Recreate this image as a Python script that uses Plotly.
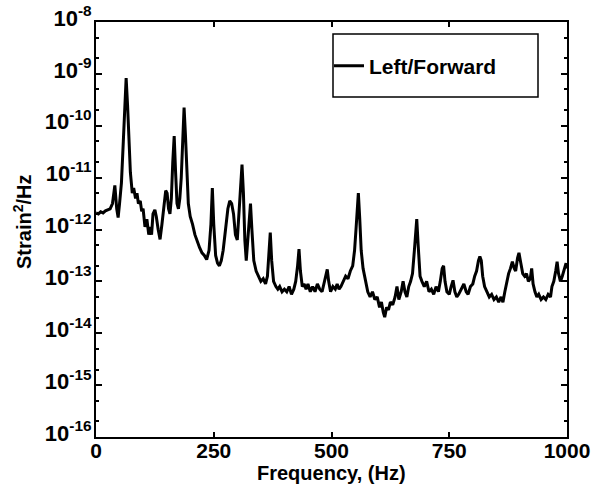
import plotly.graph_objects as go

# Frequency (Hz) and log10 of PSD (strain^2/Hz)
freq = [0, 5, 10, 15, 20, 25, 30, 35, 40, 44, 47, 50, 54, 58, 61, 64, 67, 70, 73, 77,
        80, 84, 87, 90, 94, 97, 100, 104, 108, 112, 115, 118, 121, 125, 128, 132, 136, 140, 144, 148,
        151, 154, 157, 160, 163, 166, 169, 172, 175, 178, 181, 184, 187, 190, 193, 196, 200, 205, 210, 215,
        220, 225, 230, 235, 240, 244, 247, 250, 254, 258, 262, 266, 270, 275, 280, 284, 288, 292, 296, 300,
        303, 307, 310, 313, 316, 319, 322, 325, 328, 331, 335, 340, 345, 350, 355, 360, 364, 367, 370, 373,
        377, 382, 386, 390, 395, 400, 405, 410, 415, 420, 424, 428, 431, 434, 438, 442, 446, 450, 455, 460,
        465, 470, 475, 480, 484, 488, 491, 494, 498, 503, 508, 512, 516, 520, 525, 530, 535, 540, 545, 549,
        552, 555, 557, 560, 563, 567, 572, 577, 582, 587, 592, 597, 602, 606, 610, 613, 617, 621, 625, 630,
        635, 639, 643, 648, 652, 656, 660, 664, 668, 672, 676, 679, 681, 684, 688, 692, 697, 702, 707, 712,
        717, 722, 727, 731, 735, 738, 741, 745, 750, 754, 758, 762, 766, 770, 775, 781, 786, 790, 795, 800,
        804, 808, 812, 815, 818, 821, 825, 830, 835, 840, 845, 850, 855, 860, 864, 868, 872, 876, 880, 884,
        888, 891, 895, 898, 902, 906, 910, 914, 918, 922, 925, 928, 932, 936, 940, 945, 950, 955, 960, 965,
        968, 972, 976, 979, 982, 986, 990, 994, 998, 1000]

log_psd = [-11.68, -11.70, -11.66, -11.68, -11.64, -11.62, -11.60, -11.50, -11.15, -11.60,
           -11.77, -11.50, -11.10, -10.30, -9.50, -9.08, -9.60, -10.40, -10.90, -11.30,
           -11.20, -11.40, -11.30, -11.50, -11.45, -11.65, -11.60, -11.95, -11.80, -12.10,
           -11.95, -12.10, -11.70, -11.62, -11.75, -12.00, -12.19, -11.90, -11.50, -11.25,
           -11.30, -11.60, -11.70, -11.40, -10.70, -10.20, -10.90, -11.50, -11.60, -11.40,
           -11.00, -10.30, -9.65, -10.20, -11.00, -11.50, -11.75, -11.90, -12.10, -12.25,
           -12.35, -12.45, -12.50, -12.58, -12.40, -11.90, -11.20, -11.90, -12.50, -12.65,
           -12.70, -12.60, -12.40, -12.00, -11.60, -11.45, -11.50, -11.70, -12.10, -12.20,
           -11.80, -11.20, -10.75, -11.30, -12.20, -12.60, -12.20, -11.80, -11.50, -12.00,
           -12.60, -12.80, -12.90, -13.00, -12.95, -13.05, -12.90, -12.50, -12.06, -12.60,
           -13.00, -13.10, -13.15, -13.10, -13.20, -13.15, -13.20, -13.10, -13.25, -13.15,
           -13.00, -12.70, -12.38, -12.80, -13.10, -13.05, -13.15, -13.05, -13.20, -13.10,
           -13.20, -13.05, -13.15, -13.20, -13.05, -12.90, -12.77, -13.00, -13.20, -13.10,
           -13.15, -13.05, -13.15, -13.10, -13.00, -12.90, -12.95, -12.80, -12.70, -12.40,
           -12.00, -11.40, -11.30, -11.80, -12.40, -12.75, -13.00, -13.20, -13.30, -13.20,
           -13.35, -13.30, -13.50, -13.40, -13.60, -13.69, -13.50, -13.55, -13.40, -13.45,
           -13.30, -13.10, -13.35, -13.20, -13.00, -13.20, -13.30, -13.10, -13.00, -12.85,
           -12.40, -11.90, -11.80, -12.30, -12.90, -13.00, -13.10, -13.00, -13.20, -13.15,
           -13.25, -13.10, -13.20, -13.00, -12.75, -12.70, -13.00, -13.20, -13.25, -13.10,
           -12.98, -13.20, -13.30, -13.25, -13.15, -13.05, -13.20, -13.25, -13.10, -13.05,
           -12.90, -12.80, -12.60, -12.52, -12.60, -12.90, -13.10, -13.20, -13.30, -13.25,
           -13.35, -13.30, -13.40, -13.30, -13.40, -13.20, -13.00, -12.85, -12.75, -12.62,
           -12.75, -12.80, -12.55, -12.45, -12.65, -12.85, -12.90, -12.85, -13.00, -12.95,
           -12.75, -13.05, -13.20, -13.30, -13.25, -13.35, -13.30, -13.35, -13.25, -13.30,
           -13.10, -13.00, -12.80, -12.62, -12.85, -13.00, -12.90, -12.75, -12.65, -12.75]

x_ticks = [0, 250, 500, 750, 1000]
y_exponents = [-16, -15, -14, -13, -12, -11, -10, -9, -8]
y_tick_labels = ["<b>10<sup>%d</sup></b>" % e for e in y_exponents]
x_tick_labels = ["<b>%d</b>" % v for v in x_ticks]
series_name = "Left/Forward"
x_title = "Frequency, (Hz)"
y_title = "Strain<sup>2</sup>/Hz"

psd = [10 ** v for v in log_psd]
y_tick_vals = [10.0 ** e for e in y_exponents]

FONT = "Liberation Sans, Arial, sans-serif"

fig = go.Figure()
fig.add_trace(go.Scatter(x=freq, y=psd, mode="lines", name="<b>" + series_name + "</b>",
                         line=dict(color="black", width=3)))

L, R, T, B = 96, 28, 22, 58
W, H = 595, 495
pw, ph = W - L - R, H - T - B

def px_x(p):
    return (p - L) / pw

def px_y(p):
    return 1 - (p - T) / ph

fig.update_layout(
    width=W, height=H,
    margin=dict(l=L, r=R, t=T, b=B, autoexpand=False),
    paper_bgcolor="white", plot_bgcolor="white",
    font=dict(family=FONT, color="black", size=20),
    showlegend=True,
    legend=dict(x=px_x(329), y=px_y(66), xanchor="left", yanchor="middle",
                bgcolor="rgba(0,0,0,0)", borderwidth=0,
                font=dict(size=21, family=FONT, color="black")),
    xaxis=dict(range=[0, 1000], tickvals=x_ticks, ticktext=x_tick_labels,
               ticks="inside", ticklen=5, tickwidth=1.5, tickcolor="black",
               showline=True, linecolor="black", linewidth=2, mirror="ticks",
               showgrid=False, zeroline=False, automargin=False,
               ticklabelstandoff=-6, ticklabeloverflow="allow",
               tickfont=dict(size=21, family=FONT, color="black")),
    yaxis=dict(type="log", range=[-16, -8], tickvals=y_tick_vals, ticktext=y_tick_labels,
               ticks="inside", ticklen=6, tickwidth=1.5, tickcolor="black",
               showline=True, linecolor="black", linewidth=2, mirror="ticks",
               showgrid=False, zeroline=False, automargin=False,
               ticklabelshift=-4, ticklabelstandoff=-2, ticklabeloverflow="allow",
               minor=dict(ticks="inside", ticklen=3, tickcolor="black", showgrid=False),
               tickfont=dict(size=22, family=FONT, color="black")),
    shapes=[dict(type="rect", xref="paper", yref="paper",
                 x0=px_x(333), x1=px_x(538), y0=px_y(97), y1=px_y(34),
                 line=dict(color="black", width=1.5), fillcolor="rgba(0,0,0,0)")],
    annotations=[
        dict(text="<b>" + x_title + "</b>", xref="paper", yref="paper",
             x=0.5, y=px_y(473), xanchor="center", yanchor="middle", showarrow=False,
             font=dict(size=20, family=FONT, color="black")),
        dict(text="<b>" + y_title + "</b>", xref="paper", yref="paper",
             x=px_x(22), y=px_y(222), xanchor="center", yanchor="middle", showarrow=False,
             textangle=-90, font=dict(size=20, family=FONT, color="black")),
    ],
)

fig.write_html("out.html", config={"displayModeBar": False},
               post_script="document.body.style.margin='0';")
